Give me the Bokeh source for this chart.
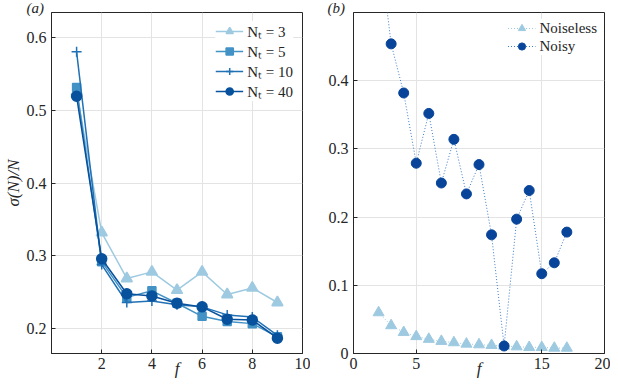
from bokeh.plotting import figure
from bokeh.layouts import row
from bokeh.models import Range1d, FixedTicker, CustomJSTickFormatter, Legend, LegendItem
from bokeh.embed import file_html
from bokeh.resources import INLINE

# ---------------- data ----------------
f_a = [1, 2, 3, 4, 5, 6, 7, 8, 9]
nt3 = [0.525, 0.332, 0.269, 0.278, 0.253, 0.278, 0.247, 0.256, 0.236]
nt5 = [0.531, 0.292, 0.243, 0.252, 0.235, 0.217, 0.210, 0.207, 0.189]
nt10 = [0.580, 0.288, 0.236, 0.238, 0.233, 0.230, 0.219, 0.216, 0.191]
nt40 = [0.519, 0.296, 0.248, 0.245, 0.235, 0.230, 0.213, 0.212, 0.187]

f_b = [2, 3, 4, 5, 6, 7, 8, 9, 10, 11, 12, 13, 14, 15, 16, 17]
noiseless = [0.060, 0.041, 0.031, 0.025, 0.021, 0.018, 0.016, 0.014, 0.013,
             0.012, 0.011, 0.010, 0.009, 0.009, 0.008, 0.008]
noisy = [0.605, 0.454, 0.382, 0.279, 0.352, 0.250, 0.314, 0.234, 0.277,
         0.174, 0.011, 0.197, 0.239, 0.117, 0.133, 0.178]

xticks_a = [2, 4, 6, 8, 10]
yticks_a = [0.2, 0.3, 0.4, 0.5, 0.6]
xticks_b = [0, 5, 15, 20]
yticks_b = [0, 0.1, 0.2, 0.3, 0.4]

FONT = "Liberation Serif"
FS = "16px"
C3, C5, C10, C40 = "#9ecae1", "#4292c6", "#2171b5", "#08519c"
C_NOISY, C_NOISY_LINE, C_NOISELESS = "#08459a", "#3d7cc9", "#9ecae1"

fmt = CustomJSTickFormatter(code="return Number(tick.toFixed(2)).toString();")

H = 380


def style(p, xt, yt, title, toff):
    p.xaxis.ticker = FixedTicker(ticks=xt)
    p.yaxis.ticker = FixedTicker(ticks=yt)
    for ax in list(p.xaxis) + list(p.yaxis):
        ax.formatter = fmt
        ax.major_label_text_font = FONT
        ax.major_label_text_font_size = FS
        ax.major_label_text_color = "#262626"
        ax.axis_line_color = "#262626"
        ax.major_tick_line_color = "#262626"
        ax.major_tick_in = 4
        ax.major_tick_out = 0
        ax.minor_tick_line_color = None
        ax.axis_label_text_font = FONT
        ax.axis_label_text_font_size = "17px"
        ax.axis_label_text_font_style = "italic"
        ax.axis_label_text_color = "#262626"
    for ax in p.xaxis:
        ax.major_label_standoff = 4
        ax.axis_label_standoff = -13
        ax.axis_label = "f"
    for ax in p.yaxis:
        ax.major_label_standoff = 5
    p.grid.grid_line_color = "#e3e3e3"
    p.grid.grid_line_width = 1
    p.outline_line_color = "#262626"
    p.outline_line_width = 1
    p.background_fill_color = "white"
    p.border_fill_color = "white"
    p.title.text = title
    p.title.align = "left"
    p.title.offset = toff
    p.title.standoff = -6
    p.title.text_font = FONT
    p.title.text_font_size = "15px"
    p.title.text_font_style = "italic"
    p.title.text_color = "#262626"


# ---------------- panel (a) ----------------
pa = figure(width=310, height=H, output_backend="svg", toolbar_location=None,
            x_range=Range1d(0, 10), y_range=Range1d(0.166, 0.634),
            min_border_left=50, min_border_right=8, min_border_top=12, min_border_bottom=6)
style(pa, xticks_a, yticks_a, "(a)", -25)
pa.yaxis.axis_label = "σ(N)/N"
pa.yaxis.axis_label_standoff = 1

items = []
for vals, col, marker, size, lab in [
    (nt3, C3, "triangle", 11, "Nₜ = 3"),
    (nt5, C5, "square", 8, "Nₜ = 5"),
    (nt10, C10, "cross", 10, "Nₜ = 10"),
    (nt40, C40, "circle", 10, "Nₜ = 40"),
]:
    l = pa.line(f_a, vals, line_color=col, line_width=1.5)
    s = pa.scatter(f_a, vals, marker=marker, size=size, fill_color=col, line_color=col,
                   line_width=1.5)
    items.append(LegendItem(label=lab, renderers=[l, s]))

leg_a = Legend(items=items, location="top_right", margin=9)
pa.add_layout(leg_a)

# ---------------- panel (b) ----------------
pb = figure(width=300, height=H, output_backend="svg", toolbar_location=None,
            x_range=Range1d(0, 20), y_range=Range1d(0, 0.5),
            min_border_left=43, min_border_right=6, min_border_top=12, min_border_bottom=6)
style(pb, xticks_b, yticks_b, "(b)", -26)

l1 = pb.line(f_b, noiseless, line_color=C_NOISELESS, line_width=1, line_dash="1 2")
s1 = pb.scatter(f_b, noiseless, marker="triangle", size=11, fill_color=C_NOISELESS,
                line_color=C_NOISELESS)
l2 = pb.line(f_b, noisy, line_color=C_NOISY_LINE, line_width=1, line_dash="1 2")
s2 = pb.scatter(f_b, noisy, marker="circle", size=10, fill_color=C_NOISY, line_color=C_NOISY)
leg_b = Legend(items=[LegendItem(label="Noiseless", renderers=[l1, s1]),
                      LegendItem(label="Noisy", renderers=[l2, s2])], location="top_right",
               margin=7)
pb.add_layout(leg_b)

for leg in (leg_a, leg_b):
    leg.label_text_font = FONT
    leg.label_text_font_size = "15px"
    leg.label_text_color = "#262626"
    leg.border_line_color = None
    leg.background_fill_color = "white"
    leg.background_fill_alpha = 1.0
    leg.glyph_width = 28
    leg.glyph_height = 18
    leg.label_height = 18
    leg.spacing = 0
    leg.padding = 4
    leg.label_standoff = 4

layout = row(pa, pb)
open("out.html", "w").write(file_html(layout, INLINE))
